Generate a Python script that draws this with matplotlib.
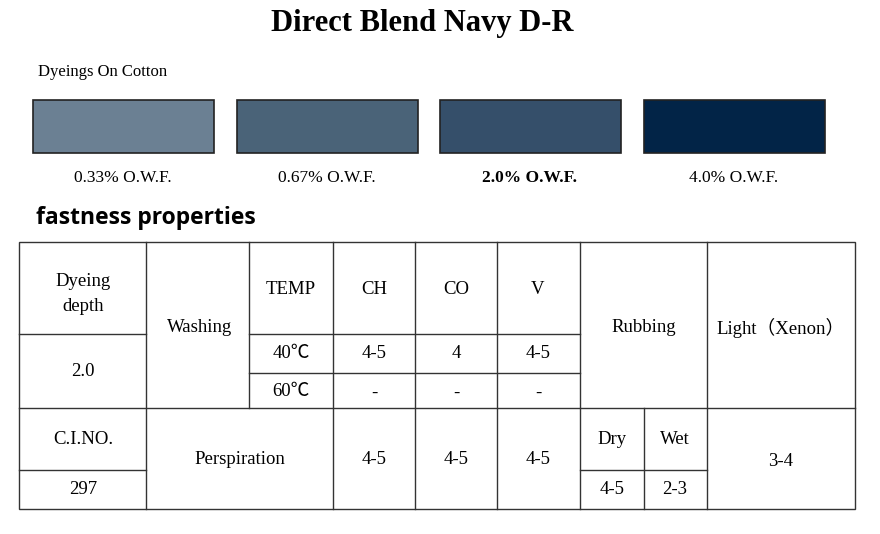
import matplotlib
matplotlib.use("Agg")
import matplotlib.pyplot as plt
from matplotlib.patches import Rectangle

title = "Direct Blend Navy D-R"
swatch_labels = ["0.33% O.W.F.", "0.67% O.W.F.", "2.0% O.W.F.", "4.0% O.W.F."]
swatch_colors = ["#6b8093", "#4a6378", "#354f6a", "#022447"]
swatch_x = [33, 237, 440, 644]
fast_heads = ["CH", "CO", "V"]
wash_40 = ["4-5", "4", "4-5"]
wash_60 = ["-", "-", "-"]
persp = ["4-5", "4-5", "4-5"]
rub_dry, rub_wet, light = "4-5", "2-3", "3-4"

fig = plt.figure(figsize=(8.8, 5.34), dpi=100)
ax = fig.add_axes([0, 0, 1, 1])
ax.set_xlim(0, 880); ax.set_ylim(534, 0); ax.axis("off")
serif = ["Liberation Serif", "Noto Sans CJK JP", "Noto Sans CJK SC", "DejaVu Sans"]
ax.text(422, 24, title, ha="center", va="center", fontsize=22, fontweight="bold", family=serif)
ax.text(38, 72, "Dyeings On Cotton", ha="left", va="center", fontsize=12, family=serif)
for x, c, l in zip(swatch_x, swatch_colors, swatch_labels):
    ax.add_patch(Rectangle((x, 100), 181, 53, facecolor=c, edgecolor="#222", lw=1.2))
    ax.text(x + 90, 178, l, ha="center", va="center", fontsize=12.5, family=serif,
            fontweight="bold" if l.startswith("2.0") else "normal")
ax.text(36, 218, "fastness properties", ha="left", va="center", fontsize=16.5, fontweight="bold", family="Open Sans")

lw = 1
def h(y, x0, x1): ax.plot([x0, x1], [y, y], color="#333", lw=lw)
def v(x, y0, y1): ax.plot([x, x], [y0, y1], color="#333", lw=lw)
ax.add_patch(Rectangle((19, 242), 836, 267, fill=False, edgecolor="#333", lw=lw))
for x in [146, 333, 415, 497, 580, 707]: v(x, 242, 509)
v(249, 242, 408); v(644, 408, 509)
h(334, 19, 146); h(334, 249, 580); h(373, 249, 580); h(408, 19, 855)
h(470, 19, 146); h(470, 580, 707)

fs = 13.5
def t(x, y, s, **k): ax.text(x, y, s, ha="center", va="center", fontsize=fs, family=serif, **k)
t(83, 294, "Dyeing\ndepth", linespacing=1.6)
t(200, 328, "Washing")
t(291, 289, "TEMP")
cx = [374, 456, 538]
for i, hd in enumerate(fast_heads):
    t(cx[i], 290, hd); t(cx[i], 354, wash_40[i]); t(cx[i], 393, wash_60[i]); t(cx[i], 460, persp[i])
t(83, 371, "2.0")
t(291, 354, "40℃"); t(291, 392, "60℃")
t(644, 328, "Rubbing")
t(781, 328, "Light（Xenon）")
t(83, 440, "C.I.NO."); t(83, 490, "297")
t(240, 460, "Perspiration")
t(612, 440, "Dry"); t(675, 440, "Wet")
t(612, 490, rub_dry); t(675, 490, rub_wet)
t(781, 462, light)
fig.savefig("out.png", dpi=100)
